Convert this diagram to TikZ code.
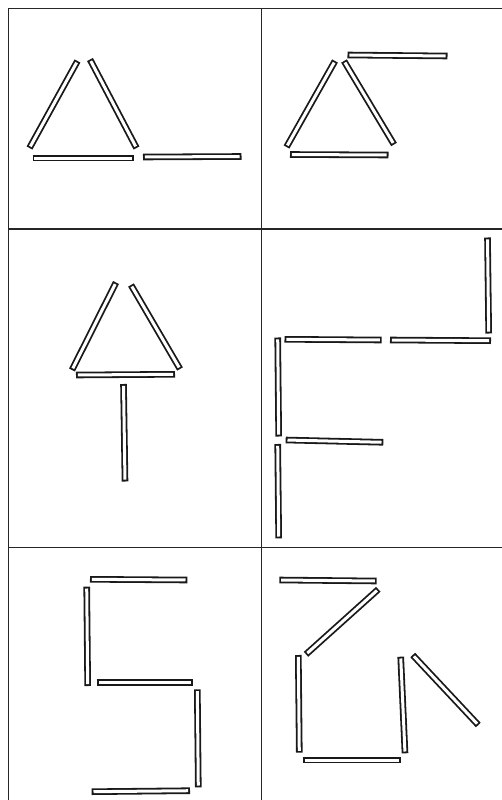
\documentclass[tikz,border=0pt]{standalone}
\begin{document}
\begin{tikzpicture}[x=1pt,y=-1pt]
\tikzset{
  frameline/.style={line width=1.1pt, black!85},
  stickout/.style={line width=6.6pt, black!90, line cap=butt},
  stickin/.style={line width=3.0pt, white, line cap=butt, shorten <=1.8pt, shorten >=1.8pt}
}
\newcommand\mystick[2]{\draw[stickout] #1 -- #2; \draw[stickin] #1 -- #2;}
\useasboundingbox (0,0) rectangle (502,800);
\fill[white] (0,0) rectangle (502,800);
% frame
\draw[frameline] (8.5,800) -- (8.5,8.5) -- (502,8.5);
\draw[frameline] (261.5,8.5) -- (261.5,800);
\draw[frameline] (8.5,229) -- (502,229);
\draw[frameline] (8.5,547.5) -- (502,547.5);
% cell 1
\mystick{(29.5,148)}{(77.5,61)}
\mystick{(90,59.5)}{(136.5,148)}
\mystick{(32.5,158)}{(134,158)}
\mystick{(143,157)}{(241.5,156.5)}
% cell 2
\mystick{(347.5,55)}{(447.5,56)}
\mystick{(286.5,147)}{(335,61)}
\mystick{(344,61)}{(394,144.5)}
\mystick{(290,154.5)}{(388.5,155)}
% cell 3
\mystick{(72,370)}{(116,282.5)}
\mystick{(131,285)}{(180,369)}
\mystick{(76,375)}{(175,374.3)}
\mystick{(123.5,384)}{(125,481.5)}
% cell 4
\mystick{(487.5,237.5)}{(488.7,333.5)}
\mystick{(390,340)}{(491,340.7)}
\mystick{(284.5,339.3)}{(381.7,340)}
\mystick{(277.7,337.5)}{(278.7,436.5)}
\mystick{(285.7,440)}{(383.3,442.3)}
\mystick{(277.7,444)}{(278.7,538.3)}
% cell 5
\mystick{(90,579.3)}{(187.3,580)}
\mystick{(86.7,586.7)}{(87.7,686)}
\mystick{(96.7,682.7)}{(192.7,682.7)}
\mystick{(197.3,689.3)}{(198.3,787.3)}
\mystick{(91.7,791.7)}{(190,790.7)}
% cell 6
\mystick{(279.3,580)}{(376.7,581)}
\mystick{(378.3,589.3)}{(306,654.3)}
\mystick{(298.3,655)}{(299.3,752.7)}
\mystick{(302.7,760)}{(400.7,760)}
\mystick{(400.7,656.7)}{(405,753.3)}
\mystick{(412.7,655)}{(478.3,725)}
\end{tikzpicture}
\end{document}
